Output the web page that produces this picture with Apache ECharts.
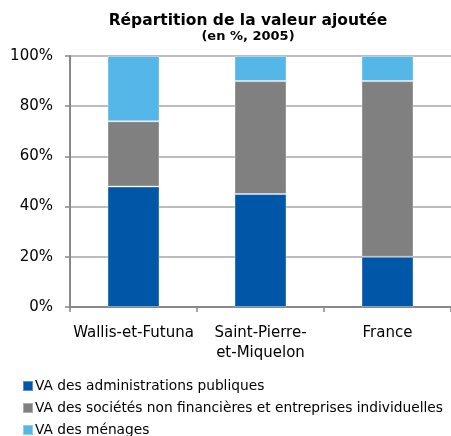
<!DOCTYPE html>
<html><head><meta charset="utf-8">
<script src="https://cdn.jsdelivr.net/npm/echarts@6/dist/echarts.min.js"></script>
<style>html,body{margin:0;padding:0;background:#fff}#c{width:451px;height:436px}</style>
</head><body><div id="c"></div>
<script>
const categories = ['Wallis-et-Futuna', 'Saint-Pierre-\net-Miquelon', 'France'];
const seriesNames = ['VA des administrations publiques', 'VA des sociétés non financières et entreprises individuelles', 'VA des ménages'];
const vaAdmin = [48, 45, 20];
const vaSocietes = [26, 45, 70];
const vaMenages = [26, 10, 10];
const colors = ['#0057a8', '#808080', '#55b6e8'];
const font = 'DejaVu Sans, Verdana, sans-serif';
const chart = echarts.init(document.getElementById('c'));
const data = [vaAdmin, vaSocietes, vaMenages];
chart.setOption({
  animation: false,
  title: {
    text: 'Répartition de la valeur ajoutée',
    subtext: '(en %, 2005)',
    left: 243, textAlign: 'center', top: 8, itemGap: 1,
    textStyle: {fontFamily: font, fontSize: 15.5, fontWeight: 'bold', color: '#000', letterSpacing: -0.3},
    subtextStyle: {fontFamily: font, fontSize: 13, fontWeight: 'bold', color: '#000'}
  },
  legend: {
    orient: 'vertical', left: 22, top: 379, itemWidth: 10, itemHeight: 10, itemGap: 8,
    padding: 0, icon: 'rect', height: 60,
    textStyle: {fontFamily: font, fontSize: 13.75, color: '#000', padding: [0,0,0,-3]},
    data: seriesNames
  },
  grid: {left: 70, top: 56, width: 386, bottom: 129, containLabel: false},
  xAxis: {
    type: 'category', data: categories,
    axisLine: {lineStyle: {color: '#888', width: 2}},
    axisTick: {show: true, length: 5, lineStyle: {color: '#888', width: 1.5}},
    axisLabel: {fontFamily: font, fontSize: 15, color: '#000', margin: 16, lineHeight: 20, interval: 0}
  },
  yAxis: {
    type: 'value', min: 0, max: 100, interval: 20,
    axisLine: {show: true, lineStyle: {color: '#888', width: 2}},
    axisTick: {show: true, length: 5, inside: false, lineStyle: {color: '#888', width: 1.5}},
    axisLabel: {fontFamily: font, fontSize: 15, color: '#000', margin: 17, formatter: '{value}%'},
    splitLine: {lineStyle: {color: '#a6a6a6', width: 1.5}}
  },
  series: seriesNames.map((n, i) => ({
    name: n, type: 'bar', stack: 'total', data: data[i], barWidth: 52,
    itemStyle: {color: colors[i], borderColor: 'rgba(255,255,255,0.35)', borderWidth: 1}
  }))
});
</script></body></html>
